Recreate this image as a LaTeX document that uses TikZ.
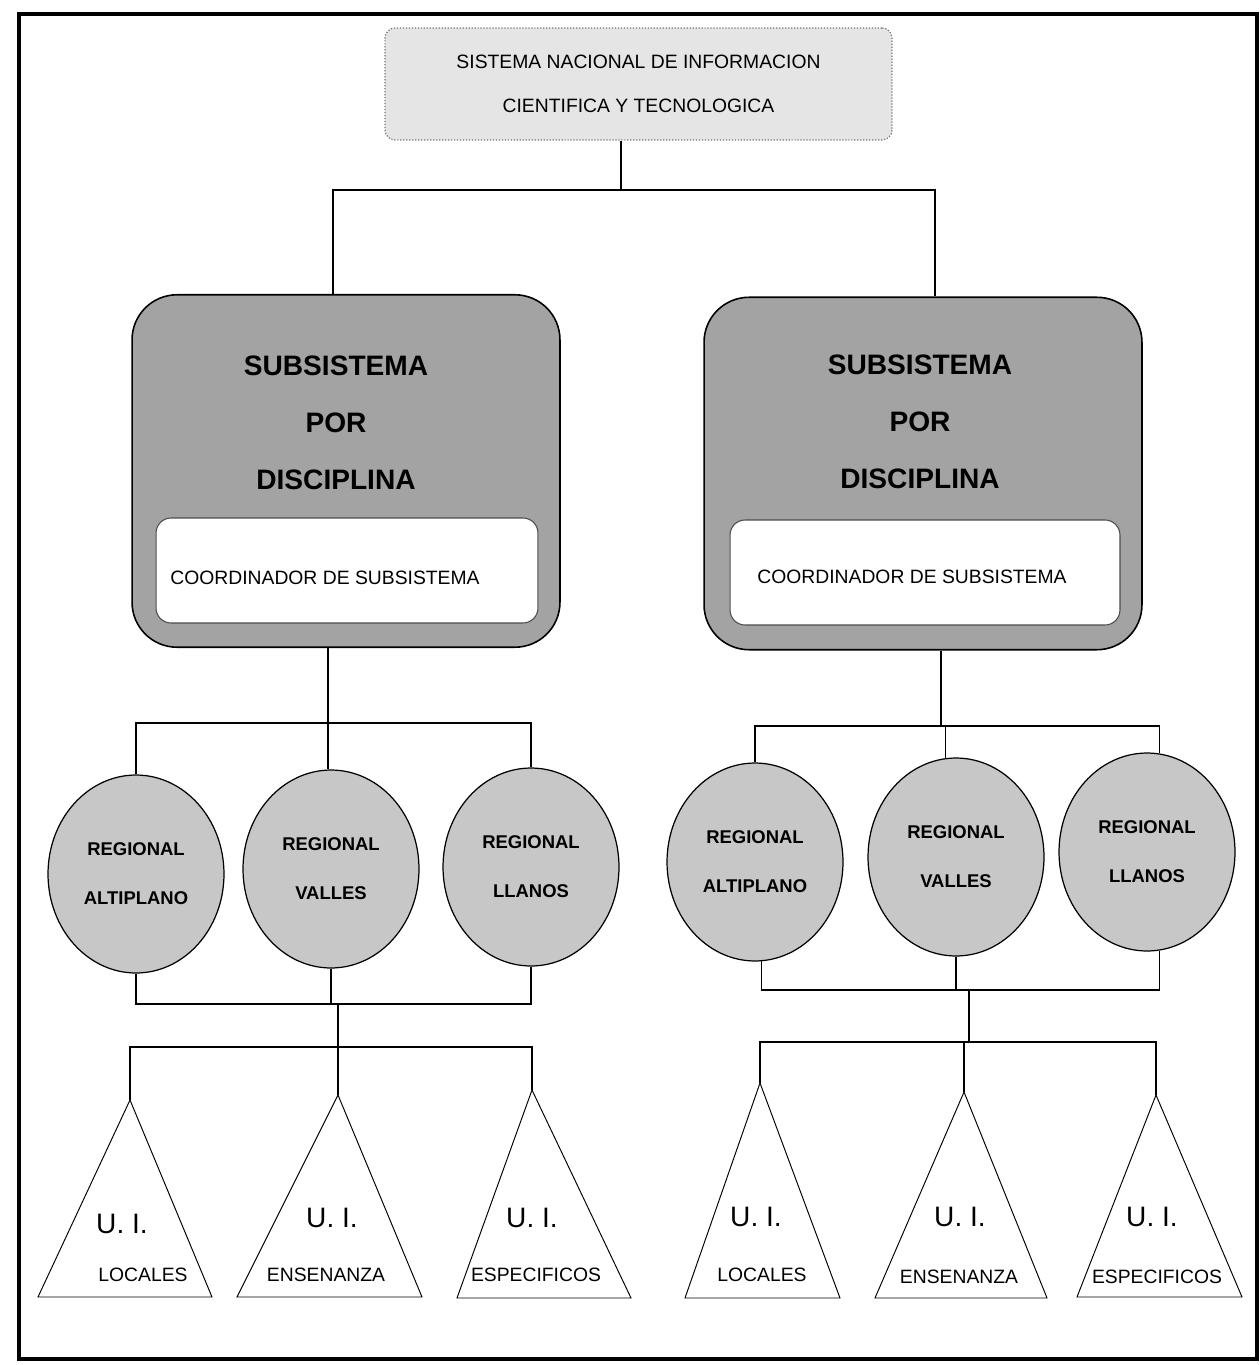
\documentclass[tikz,border=0pt]{standalone}
\usepackage{fontspec}
\setmainfont{Liberation Sans}
\usetikzlibrary{shapes.geometric}
\begin{document}
\begin{tikzpicture}[x=0.02cm,y=-0.02cm,
  wire/.style={draw=black,line width=0.6pt},
  headbox/.style={draw=black!55,densely dotted,line width=0.7pt,fill=black!10,rounded corners=0.2cm,
    minimum width=10.14cm,minimum height=2.24cm,align=center,font=\fontsize{11}{25}\selectfont,inner sep=0},
  subbox/.style={draw=black,line width=0.9pt,fill=black!36,rounded corners=0.9cm,minimum height=7.05cm,inner sep=0},
  subtitle/.style={align=center,font=\bfseries\fontsize{16}{32.6}\selectfont,inner sep=0},
  coordbox/.style={draw=black!70,line width=0.6pt,fill=white,rounded corners=0.3cm,minimum height=2.1cm,inner sep=0},
  coordtext/.style={anchor=west,inner sep=0,font=\fontsize{11}{13}\selectfont},
  region/.style={ellipse,draw=black,line width=0.7pt,fill=black!22,minimum width=3.52cm,minimum height=3.96cm,
    inner sep=0,align=center,font=\bfseries\fontsize{10.5}{28}\selectfont},
  unit/.style={draw=black,line width=0.55pt},
  uimark/.style={inner sep=0,font=\fontsize{16}{18}\selectfont},
  uiname/.style={inner sep=0,font=\fontsize{11}{13}\selectfont},
]
\useasboundingbox (0,0) rectangle (1259,1365);
% outer frame
\draw[line width=1.8pt] (19,14) rectangle (1257,1359);

% national system
\node[headbox] (top) at (638.5,84) {SISTEMA NACIONAL DE INFORMACION\\CIENTIFICA Y TECNOLOGICA};

% subsystems by discipline
\node[subbox,minimum width=8.56cm] (lbox) at (346,471) {};
\node[subtitle] (ltitle) at (336,423) {SUBSISTEMA\\POR\\DISCIPLINA};
\node[coordbox,minimum width=7.64cm] (lcoord) at (347,570.5) {};
\node[coordtext] (lcoordtxt) at (170,578) {COORDINADOR DE SUBSISTEMA};

\node[subbox,minimum width=8.76cm] (rbox) at (923,473.5) {};
\node[subtitle] (rtitle) at (920,422) {SUBSISTEMA\\POR\\DISCIPLINA};
\node[coordbox,minimum width=7.8cm] (rcoord) at (925,572.5) {};
\node[coordtext] (rcoordtxt) at (757,577) {COORDINADOR DE SUBSISTEMA};

% regional units
\node[region] (a1) at (136,874) {REGIONAL\\ALTIPLANO};
\node[region] (v1) at (331,869) {REGIONAL\\VALLES};
\node[region] (c1) at (531,867) {REGIONAL\\LLANOS};
\node[region] (a2) at (755,862) {REGIONAL\\ALTIPLANO};
\node[region] (v2) at (956,857) {REGIONAL\\VALLES};
\node[region] (c2) at (1147,852) {REGIONAL\\LLANOS};

% information units (triangles)
\coordinate (t1) at (130,1100);
\coordinate (t2) at (338,1095);
\coordinate (t3) at (532,1090);
\coordinate (t4) at (760,1083);
\coordinate (t5) at (964,1092);
\coordinate (t6) at (1156,1095);
\draw[unit] (t1) -- (38,1297) -- (212,1297) -- cycle;
\draw[unit] (t2) -- (237,1297) -- (422,1297) -- cycle;
\draw[unit] (t3) -- (457,1298) -- (631,1298) -- cycle;
\draw[unit] (t4) -- (685,1298) -- (840,1298) -- cycle;
\draw[unit] (t5) -- (875,1298) -- (1047,1298) -- cycle;
\draw[unit] (t6) -- (1077,1297) -- (1242,1297) -- cycle;

\node[uimark] (u1) at (122,1224) {U. I.};
\node[uiname] (n1) at (143,1275) {LOCALES};
\node[uimark] (u2) at (332,1218) {U. I.};
\node[uiname] (n2) at (326,1275) {ENSENANZA};
\node[uimark] (u3) at (532,1218) {U. I.};
\node[uiname] (n3) at (536,1275) {ESPECIFICOS};
\node[uimark] (u4) at (756,1217) {U. I.};
\node[uiname] (n4) at (762,1275) {LOCALES};
\node[uimark] (u5) at (960,1217) {U. I.};
\node[uiname] (n5) at (959,1277) {ENSENANZA};
\node[uimark] (u6) at (1152,1217) {U. I.};
\node[uiname] (n6) at (1157,1277) {ESPECIFICOS};

% connectors: national system to subsystems
\coordinate (j0) at (621,190);
\coordinate (jl) at (333,190);
\coordinate (jr) at (935,190);
\draw[wire] (j0 |- top.south) -- (j0);
\draw[wire] (jl |- lbox.north) -- (jl) -- (jr) -- (jr |- rbox.north);

% left subsystem to its regionals
\coordinate (hL) at (328,723);
\draw[wire] (hL |- lbox.south) -- (hL |- v1.north);
\draw[wire] (a1.north) |- (hL) -| (c1.north);

% left regionals to their units
\coordinate (bL) at (338,1004);
\coordinate (tL) at (338,1047);
\draw[wire] (a1.south) |- (bL) -| (c1.south);
\draw[wire] (v1.south) -- (v1.south |- bL);
\draw[wire] (bL) -- (tL);
\draw[wire] (t1) |- (tL) -| (t3);
\draw[wire] (t2) -- (t2 |- tL);

% right subsystem to its regionals
\coordinate (hR) at (941,726);
\draw[wire] (hR |- rbox.south) -- (hR);
\draw[wire] (a2.north) |- (hR) -| (c2.83.5);
\draw[wire] (v2.96.4) -- (v2.96.4 |- hR);

% right regionals to their units
\coordinate (bR) at (969,990);
\coordinate (tR) at (969,1042);
\draw[wire] (a2.-86.7) |- (bR) -| (c2.-83.5);
\draw[wire] (v2.south) -- (v2.south |- bR);
\draw[wire] (bR) -- (tR);
\draw[wire] (t4) |- (tR) -| (t6);
\draw[wire] (t5) -- (t5 |- tR);
\end{tikzpicture}
\end{document}
